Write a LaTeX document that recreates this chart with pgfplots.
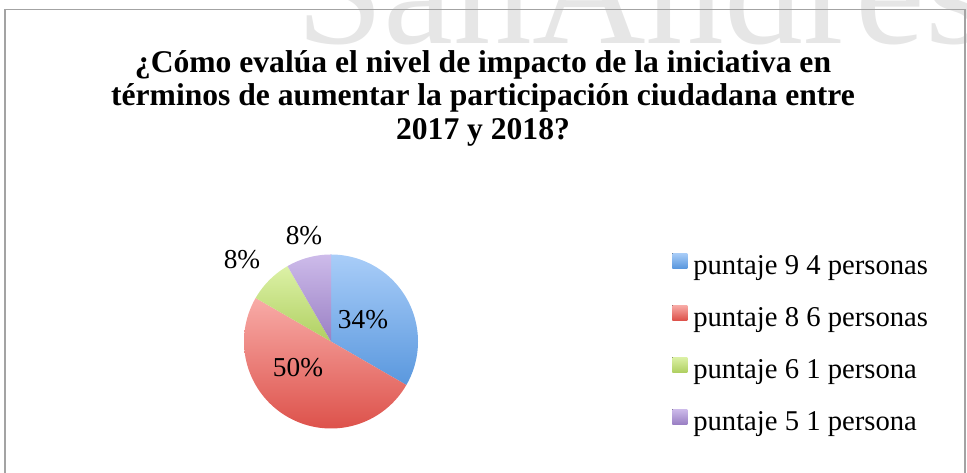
\documentclass[border=0pt]{standalone}
\usepackage{fontspec}
\setmainfont{Liberation Serif}
\usepackage{pgfplots}
\pgfplotsset{compat=1.18}
\definecolor{bluetop}{HTML}{A9CDF8}
\definecolor{bluebot}{HTML}{5A98DE}
\definecolor{redtop}{HTML}{F8ABA7}
\definecolor{redbot}{HTML}{DD524B}
\definecolor{greentop}{HTML}{DCF1A6}
\definecolor{greenbot}{HTML}{B0D062}
\definecolor{purptop}{HTML}{CDBBEA}
\definecolor{purpbot}{HTML}{9A80C4}
\definecolor{framegray}{HTML}{A3A3A3}
\definecolor{wmgray}{HTML}{E6E6E6}
% counts per category (4, 6, 1, 1 of 12 people)
\def\cA{4}\def\cB{6}\def\cC{1}\def\cD{1}
\pgfmathsetmacro{\tot}{\cA+\cB+\cC+\cD}
\pgfmathsetmacro{\aA}{90}
\pgfmathsetmacro{\aB}{\aA-360*\cA/\tot}
\pgfmathsetmacro{\aC}{\aB-360*\cB/\tot}
\pgfmathsetmacro{\aD}{\aC-360*\cC/\tot}
\pgfmathsetmacro{\aE}{\aD-360*\cD/\tot}
\def\cx{331}\def\cy{131.5}\def\rr{87}
\begin{document}
\begin{tikzpicture}
\begin{axis}[
  width=725.25pt, height=354.75pt, scale only axis,
  xmin=0, xmax=967, ymin=0, ymax=473,
  hide axis, no markers,
  legend cell align=left,
  legend image code/.code={\fill[#1] (0pt,-2.4pt) rectangle (11.25pt,8.85pt);},
  legend style={draw=none, fill=none, inner sep=0pt,
    at={(axis cs:672,225.7)}, anchor=north west,
    font=\fontsize{21.5pt}{25pt}\selectfont,
    row sep=13pt,
    nodes={inner sep=0pt, text height=20pt, text depth=6pt},
    /tikz/every odd column/.append style={column sep=4.5pt}},
]
\node[text=wmgray, font=\fontsize{118pt}{120pt}\selectfont, anchor=base west, inner sep=0pt, text depth=0pt] at (axis cs:296,429) {SanAndres};
\draw[framegray, line width=1.1pt] (axis cs:5,463.5) rectangle (axis cs:965,-20);

\addplot[draw=none, top color=bluetop, bottom color=bluebot, domain=\aB:\aA, samples=100]
  ({\cx+\rr*cos(x)},{\cy+\rr*sin(x)}) -- (axis cs:\cx,\cy) -- cycle;
\addlegendentry{puntaje 9 4 personas}
\addplot[draw=none, top color=redtop, bottom color=redbot, domain=\aC:\aB, samples=120]
  ({\cx+\rr*cos(x)},{\cy+\rr*sin(x)}) -- (axis cs:\cx,\cy) -- cycle;
\addlegendentry{puntaje 8 6 personas}
\addplot[draw=none, top color=greentop, bottom color=greenbot, domain=\aD:\aC, samples=40]
  ({\cx+\rr*cos(x)},{\cy+\rr*sin(x)}) -- (axis cs:\cx,\cy) -- cycle;
\addlegendentry{puntaje 6 1 persona}
\addplot[draw=none, top color=purptop, bottom color=purpbot, domain=\aE:\aD, samples=40]
  ({\cx+\rr*cos(x)},{\cy+\rr*sin(x)}) -- (axis cs:\cx,\cy) -- cycle;
\addlegendentry{puntaje 5 1 persona}

\node[font=\fontsize{20.5pt}{24pt}\selectfont, inner sep=0pt] at (axis cs:363,153) {34\%};
\node[font=\fontsize{20.5pt}{24pt}\selectfont, inner sep=0pt] at (axis cs:298,105) {50\%};
\node[font=\fontsize{20.5pt}{24pt}\selectfont, inner sep=0pt] at (axis cs:242,213) {8\%};
\node[font=\fontsize{20.5pt}{24pt}\selectfont, inner sep=0pt] at (axis cs:304,237) {8\%};

\node[font=\bfseries\fontsize{23.7pt}{25.1pt}\selectfont, align=center, anchor=north, inner sep=0pt] at (axis cs:483,423)
  {¿Cómo evalúa el nivel de impacto de la iniciativa en\\términos de aumentar la participación ciudadana entre\\2017 y 2018?};
\end{axis}
\pgfresetboundingbox
\path (current axis.south west) rectangle (current axis.north east);
\end{tikzpicture}
\end{document}
